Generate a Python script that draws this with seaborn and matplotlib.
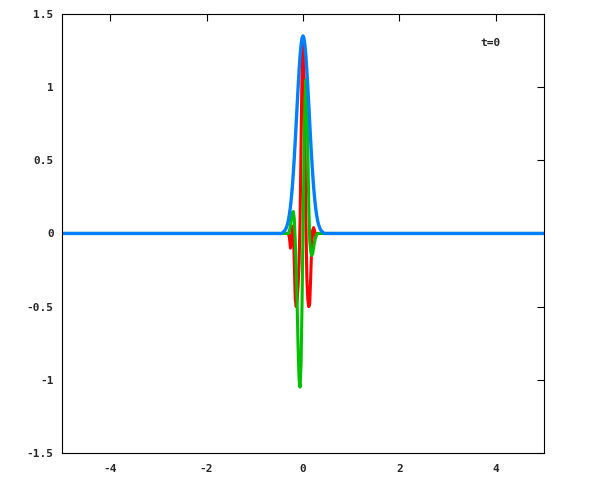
#Import needed packages
import pandas as pd
import seaborn as sns
import matplotlib.pyplot as plt

#Sample positions (x) and values
x_vals = [-5.0, -0.44, -0.40, -0.38, -0.36, -0.34, -0.32, -0.30, -0.28, -0.26, -0.24, -0.22,
          -0.20, -0.18, -0.16, -0.14, -0.12, -0.10, -0.08, -0.06, -0.04, -0.02,
          0.00, 0.02, 0.04, 0.06, 0.08, 0.10, 0.12, 0.14, 0.16, 0.18,
          0.20, 0.22, 0.24, 0.26, 0.28, 0.30, 0.32, 0.34, 0.36, 0.38, 0.40, 0.44, 5.0]

#Real part (red)
re_vals = [0.0, 0.0, 0.0, 0.0, 0.0, 0.0, 0.0, 0.0, -0.03, -0.10, -0.05, 0.05,
           0.04, -0.20, -0.45, -0.50, -0.45, -0.35, -0.20, 0.10, 0.60, 1.10,
           1.30, 1.10, 0.65, 0.10, -0.30, -0.45, -0.50, -0.48, -0.30, -0.10,
           0.02, 0.04, 0.02, -0.02, -0.01, 0.0, 0.0, 0.0, 0.0, 0.0, 0.0, 0.0, 0.0]

#Imaginary part (green)
im_vals = [0.0, 0.0, 0.0, 0.0, 0.0, 0.0, 0.0, 0.0, 0.02, 0.05, 0.10, 0.14,
           0.15, 0.10, -0.05, -0.25, -0.50, -0.80, -1.00, -1.05, -0.90, -0.50,
           0.0, 0.50, 0.90, 1.05, 0.95, 0.60, 0.20, -0.05, -0.12, -0.15,
           -0.14, -0.10, -0.06, -0.03, -0.01, 0.0, 0.0, 0.0, 0.0, 0.0, 0.0, 0.0, 0.0]

#Modulus (blue)
abs_vals = [0.0, 0.0, 0.012, 0.019, 0.029, 0.044, 0.065, 0.094, 0.133, 0.183, 0.246, 0.322,
            0.413, 0.518, 0.633, 0.756, 0.882, 1.004, 1.117, 1.214, 1.288, 1.334,
            1.350, 1.334, 1.288, 1.214, 1.117, 1.004, 0.882, 0.756, 0.633, 0.518,
            0.413, 0.322, 0.246, 0.183, 0.133, 0.094, 0.065, 0.044, 0.029, 0.019, 0.012, 0.0, 0.0]

y_ticks = [-1.5, -1, -0.5, 0, 0.5, 1, 1.5]
y_labels = ['-1.5', '-1', '-0.5', '0', '0.5', '1', '1.5']
x_ticks = [-4, -2, 0, 2, 4]
x_labels = ['-4', '-2', '0', '2', '4']

df = pd.DataFrame({'x': x_vals, 're': re_vals, 'im': im_vals, 'abs': abs_vals})

sns.set_style('white')
plt.rcParams['font.family'] = ['DejaVu Sans Mono']
plt.rcParams['axes.unicode_minus'] = False

fig = plt.figure(figsize=(6, 4.8), dpi=100)
ax = fig.add_axes([0.1033, 0.0563, 0.8033, 0.9146])

#gnuplot order: red, green, blue on top
sns.lineplot(data=df, x='x', y='re', ax=ax, color='#ff0000', linewidth=2.2, sort=False, estimator=None)
sns.lineplot(data=df, x='x', y='im', ax=ax, color='#00c000', linewidth=2.2, sort=False, estimator=None)
sns.lineplot(data=df, x='x', y='abs', ax=ax, color='#0080ff', linewidth=2.4, sort=False, estimator=None)

ax.set_xlim(-5, 5)
ax.set_ylim(-1.5, 1.5)
ax.set_xticks(x_ticks)
ax.set_xticklabels(x_labels)
ax.set_yticks(y_ticks)
ax.set_yticklabels(y_labels)
ax.set_xlabel('')
ax.set_ylabel('')
ax.tick_params(direction='in', length=5, width=0.8, top=True, right=True,
               labelsize=8, color='black')
ax.tick_params(axis='x', pad=8)
ax.tick_params(axis='y', pad=6)
for lab in ax.get_xticklabels() + ax.get_yticklabels():
    lab.set_fontweight('bold')
for sp in ax.spines.values():
    sp.set_color('black')
    sp.set_linewidth(0.8)

ax.text(3.69, 1.30, 't=0', fontsize=8, fontweight='bold', ha='left', va='center')

plt.savefig('out.png', dpi=100)
